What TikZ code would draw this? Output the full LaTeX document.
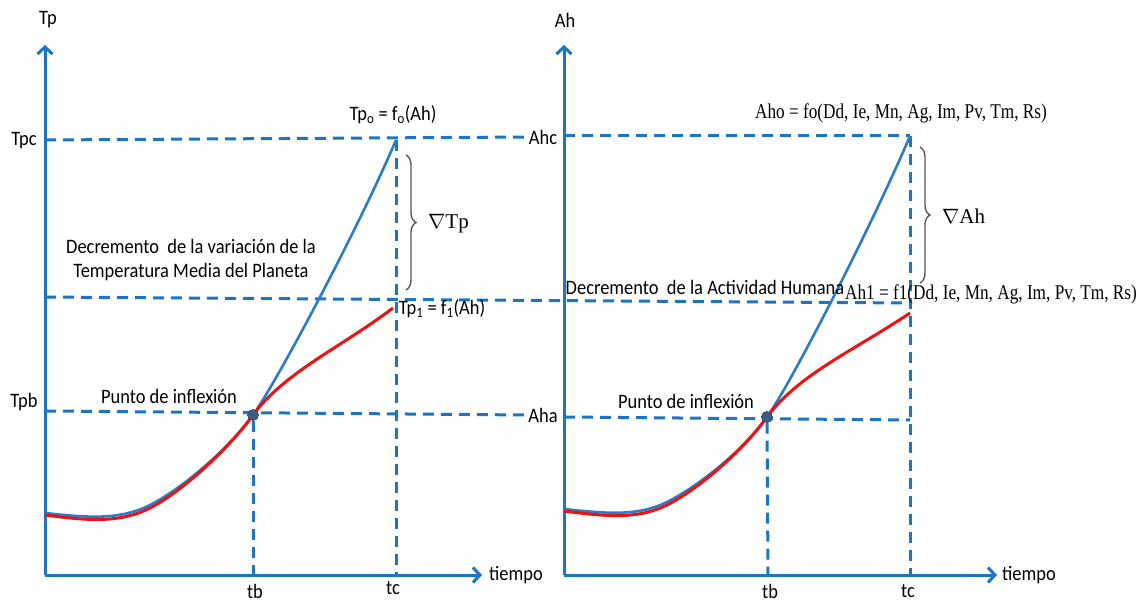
\documentclass[tikz,border=0pt]{standalone}
\usepackage{fontspec}
\usepackage{graphicx}
\setmainfont{Carlito}
\newfontfamily\formfont{Liberation Serif}
\usetikzlibrary{arrows.meta,decorations.pathreplacing}
\definecolor{axblue}{HTML}{1B75C4}
\definecolor{cvblue}{HTML}{2A7CC6}
\definecolor{cvred}{HTML}{F01010}
\definecolor{dotc}{HTML}{3E5A86}
\newcommand\sq[1]{\scalebox{0.9}[1]{#1}}
\newcommand\sqf[1]{\scalebox{0.82}[1]{#1}}
\tikzset{
  axis/.style={axblue,line width=3pt,-{Straight Barb[length=7pt,width=15pt,line width=3pt]}},
  guide/.style={axblue,line width=3pt,dash pattern=on 11pt off 7pt},
  blue curve/.style={cvblue,line width=2.6pt},
  red curve/.style={cvred,line width=3pt},
  lbl/.style={font=\fontsize{20.5}{22}\selectfont,inner sep=1pt},
  frm/.style={font=\formfont\fontsize{21}{22}\selectfont,inner sep=1pt},
  brc/.style={draw=black!65,line width=1.4pt,decorate,decoration={brace,amplitude=10pt}},
  inflect/.style={circle,fill=dotc,draw=dotc!70!black,minimum size=11pt,inner sep=0pt}
}
\begin{document}
\begin{tikzpicture}[x=1pt,y=-1pt]
\useasboundingbox (0,0) rectangle (1144,604);
% ---------- left panel ----------
\coordinate (Lo) at (45,575);
\coordinate (Ltop) at (45,45);
\coordinate (Lright) at (482,575);
\draw[axis] (Lo) -- (Ltop);
\draw[axis] (Lo) -- (Lright);
\node[lbl] (Tp) at (48,20) {\sq{Tp}};
\node[lbl] (tiempoL) at (516,575) {\sq{tiempo}};
\node[lbl] (Tpc) at (24,141) {\sq{Tpc}};
\node[lbl] (Tpb) at (24,402) {\sq{Tpb}};
\node[lbl] (tbL) at (255,591) {\sq{tb}};
\node[lbl] (tcL) at (393,588) {\sq{tc}};
% guides
\coordinate (Lc) at (45,140);
\coordinate (Lm) at (45,297);
\coordinate (Lb) at (45,411);
\coordinate (Ltc) at (396,140);
\coordinate (Ltcb) at (396,575);
\coordinate (Ltbb) at (253,575);
\node[inflect] (pL) at (253,415) {};
\draw[guide] (Lc) -- (528,137);
\draw[guide] (Lm) -- (910,303);
\draw[guide] (Lb) -- (528,415);
\draw[guide] (Ltc) -- (Ltcb);
\draw[guide] (pL) -- (Ltbb);
% curves
\draw[blue curve] (45,513) .. controls (90,518) and (120,520) .. (150,505)
   .. controls (180,490) and (228,450) .. (253,415)
   .. controls (278,380) and (360,225) .. (396,140);
\draw[red curve] (45,515) .. controls (90,521) and (120,523) .. (150,508)
   .. controls (180,493) and (228,450) .. (253,415)
   .. controls (285,372) and (340,348) .. (393,308);
\node[inflect] at (253,415) {};
% labels
\node[lbl] (Tp0) at (393,115) {\sq{Tp\textsubscript{o} = f\textsubscript{o}(Ah)}};
\node[lbl] (Tp1) at (442,309) {\sq{Tp\textsubscript{1} = f\textsubscript{1}(Ah)}};
\draw[brc] (406,155) -- (406,290);
\node[frm,anchor=west] (nTp) at (427,224) {$\nabla$Tp};
\node[lbl] (decL1) at (191,246) {\sq{Decremento\ \ de la variación de la}};
\node[lbl] (decL2) at (191,272) {\sq{Temperatura Media del Planeta}};
\node[lbl] (pinfL) at (169,396) {\sq{Punto de inflexión}};
% ---------- right panel ----------
\coordinate (Ro) at (564,575);
\coordinate (Rtop) at (564,45);
\coordinate (Rright) at (997,575);
\draw[axis] (Ro) -- (Rtop);
\draw[axis] (Ro) -- (Rright);
\node[lbl] (Ah) at (565,20) {\sq{Ah}};
\node[lbl] (tiempoR) at (1029,575) {\sq{tiempo}};
\node[lbl] (Ahc) at (543,137) {\sq{Ahc}};
\node[lbl] (Aha) at (543,415) {\sq{Aha}};
\node[lbl] (tbR) at (770,591) {\sq{tb}};
\node[lbl] (tcR) at (908,591) {\sq{tc}};
\coordinate (Rc) at (564,136);
\coordinate (Rb) at (564,417);
\coordinate (Rtc) at (910,136);
\coordinate (Rtcb) at (910,575);
\coordinate (Rtbb) at (768,575);
\node[inflect] (pR) at (767,417) {};
\draw[guide] (Rc) -- (Rtc);
\draw[guide] (Rb) -- (910,420);
\draw[guide] (Rtc) -- (Rtcb);
\draw[guide] (pR) -- (Rtbb);
\draw[blue curve] (564,509) .. controls (609,514) and (639,516) .. (667,502)
   .. controls (697,487) and (742,452) .. (767,417)
   .. controls (792,382) and (874,221) .. (910,136);
\draw[red curve] (564,511) .. controls (609,517) and (639,519) .. (667,505)
   .. controls (697,490) and (742,452) .. (767,417)
   .. controls (799,374) and (855,350) .. (910,313);
\node[inflect] at (767,417) {};
\node[frm] (Aho) at (901,113) {\sqf{Aho = fo(Dd, Ie, Mn, Ag, Im, Pv, Tm, Rs)}};
\node[frm] (Ah1) at (991,294) {\sqf{Ah1 = f1(Dd, Ie, Mn, Ag, Im, Pv, Tm, Rs)}};
\draw[brc] (920,147) -- (920,283);
\node[frm,anchor=west] (nAh) at (941,216) {$\nabla$Ah};
\node[lbl] (decR) at (705,287) {\sq{Decremento\ \ de la Actividad Humana}};
\node[lbl] (pinfR) at (686,401) {\sq{Punto de inflexión}};
\end{tikzpicture}
\end{document}
